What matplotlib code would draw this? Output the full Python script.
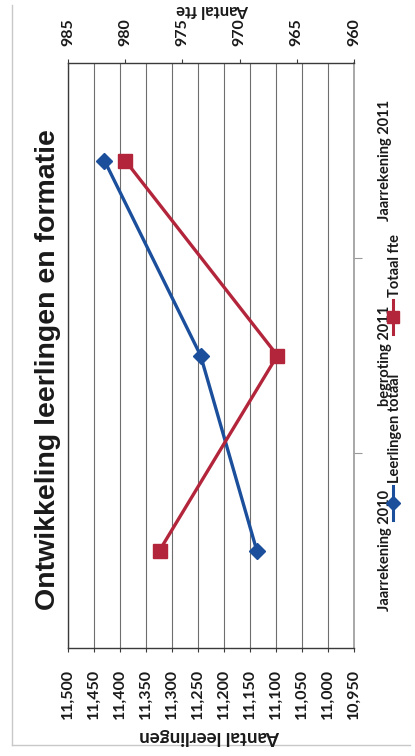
import matplotlib
matplotlib.use("Agg")
import matplotlib.pyplot as plt
from matplotlib.lines import Line2D

# Data
categories = ["Jaarrekening 2010", "begroting 2011", "Jaarrekening 2011"]
leerlingen_totaal = [11137, 11245, 11430]
totaal_fte = [977.0, 966.7, 980.0]

leerlingen_ticks = [11500, 11450, 11400, 11350, 11300, 11250, 11200, 11150, 11100, 11050, 11000, 10950]
leerlingen_ticklabels = ["11,500", "11,450", "11,400", "11,350", "11,300", "11,250",
                         "11,200", "11,150", "11,100", "11,050", "11,000", "10,950"]
fte_ticks = [985, 980, 975, 970, 965, 960]
fte_ticklabels = ["985", "980", "975", "970", "965", "960"]

title = "Ontwikkeling leerlingen en formatie"
label_leerlingen = "Aantal leerlingen"
label_fte = "Aantal fte"
legend_labels = ["Leerlingen totaal", "Totaal fte"]

BLUE = "#1b4f9c"
RED = "#b3253b"
GRID = "#6e6e6e"
AXIS = "#3a3a3a"
TXT = "#1a1a1a"
SANS = ["Lato", "DejaVu Sans"]

W, H = 415, 756
fig = plt.figure(figsize=(W / 100, H / 100), dpi=100)
fig.patch.set_facecolor("white")

# Plot area (chart is laid out sideways: values run horizontally)
x0, x1, y0, y1 = 68, 354, 63, 648
ax = fig.add_axes([x0 / W, 1 - y1 / H, (x1 - x0) / W, (y1 - y0) / H])
pos = list(range(len(categories)))

ax.set_xlim(11500, 10950)
ax.set_ylim(-0.5, len(categories) - 0.5)
ax.set_xticks(leerlingen_ticks, leerlingen_ticklabels, rotation=90,
              fontsize=11.5, fontweight="bold", family=SANS, color=TXT)
ax.tick_params(axis="x", direction="out", length=3, width=0.8, color=AXIS, pad=12)
ax.grid(axis="x", color=GRID, linewidth=0.8)
ax.set_axisbelow(True)

# Category axis on the right side
ax.yaxis.tick_right()
ax.set_yticks(pos, categories, rotation=90, va="center",
              fontsize=10.5, fontweight="bold", family=SANS, color=TXT)
ax.tick_params(axis="y", which="major", length=0, pad=17)
ax.set_yticks([p + 0.5 for p in pos[:-1]], minor=True)
ax.tick_params(axis="y", which="minor", length=6, width=0.8, color="#9a9a9a", direction="out")

ax.spines["bottom"].set_color(AXIS)
ax.spines["bottom"].set_linewidth(1.0)
ax.spines["left"].set_color(AXIS)
ax.spines["left"].set_linewidth(1.0)
ax.spines["right"].set_color("#9a9a9a")
ax.spines["right"].set_linewidth(1.2)
ax.spines["top"].set_visible(False)

ax.plot(leerlingen_totaal, pos, color=BLUE, linewidth=2.4, marker="D",
        markersize=8, markerfacecolor=BLUE, markeredgecolor=BLUE, zorder=4)

# Secondary value axis (fte) along the top
ax2 = ax.twiny()
ax2.set_xlim(985, 960)
ax2.set_xticks(fte_ticks, fte_ticklabels, rotation=90,
               fontsize=11.5, fontweight="bold", family=SANS, color=TXT)
ax2.tick_params(axis="x", direction="out", length=3, width=0.8, color=AXIS, pad=9)
ax2.spines["top"].set_color(AXIS)
ax2.spines["top"].set_linewidth(1.0)
for side in ["bottom", "left", "right"]:
    ax2.spines[side].set_visible(False)
ax2.plot(totaal_fte, pos, color=RED, linewidth=2.4, marker="s",
         markersize=10, markerfacecolor=RED, markeredgecolor=RED, zorder=4)

# Titles
fig.text(48 / W, 1 - 370 / H, title, rotation=90, ha="center", va="center",
         fontsize=20.5, fontweight="bold", family=["Liberation Sans", "DejaVu Sans"], color=TXT)
fig.text(210 / W, 1 - 736 / H, label_leerlingen, rotation=180, ha="center", va="center",
         fontsize=13.5, fontweight="bold", family=SANS, color=TXT)
fig.text(213 / W, 1 - 10 / H, label_fte, rotation=180, ha="center", va="center",
         fontsize=12, fontweight="bold", family=SANS, color=TXT)

# Legend entries drawn sideways below the category labels
legend_x = 393
entries = [(503, BLUE, "D", 7), (317, RED, "s", 9)]
for (yc, col, mk, ms), lab in zip(entries, legend_labels):
    fig.add_artist(Line2D([legend_x / W, legend_x / W], [1 - (yc + 17) / H, 1 - (yc - 17) / H],
                          transform=fig.transFigure, color=col, linewidth=2.2))
    fig.add_artist(Line2D([legend_x / W], [1 - yc / H], transform=fig.transFigure,
                          color=col, marker=mk, markersize=ms, linestyle="none"))
    fig.text((legend_x + 2) / W, 1 - (yc - 20) / H, lab, rotation=90, ha="center", va="bottom",
             fontsize=10.5, fontweight="bold", family=SANS, color=TXT)

# Faint chart-area frame
fig.add_artist(Line2D([12 / W, 12 / W], [1 - 745 / H, 1 - 5 / H], transform=fig.transFigure,
                      color="#c8c8c8", linewidth=1.0))
fig.add_artist(Line2D([12 / W, 410 / W], [1 - 745 / H, 1 - 745 / H], transform=fig.transFigure,
                      color="#c8c8c8", linewidth=1.0))

fig.savefig("out.png", dpi=100, facecolor="white")
